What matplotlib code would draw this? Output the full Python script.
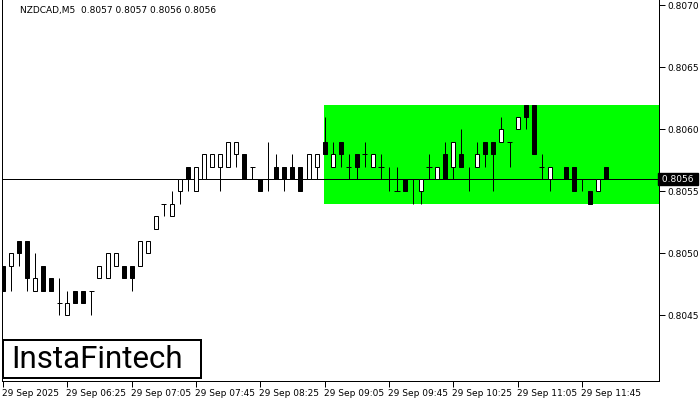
import matplotlib
matplotlib.use("Agg")
import matplotlib.pyplot as plt
from matplotlib.patches import Rectangle
import matplotlib.transforms as mtransforms

# ---- data ----
opens = [0.8049, 0.8049, 0.8051, 0.8051, 0.8047, 0.8049, 0.8048, 0.8046, 0.8045, 0.8047,
         0.8047, 0.8047, 0.8048, 0.8048, 0.8049, 0.8049, 0.8049, 0.8049, 0.8050, 0.8052,
         0.8054, 0.8053, 0.8055, 0.8057, 0.8055, 0.8056, 0.8057, 0.8057, 0.8057, 0.8058,
         0.8058, 0.8057, 0.8056, 0.8056, 0.8057, 0.8057, 0.8057, 0.8057, 0.8056, 0.8057,
         0.8059, 0.8057, 0.8059, 0.8057, 0.8058, 0.8058, 0.8057, 0.8057, 0.8056, 0.8055,
         0.8056, 0.8056, 0.8055, 0.8057, 0.8056, 0.8058, 0.8057, 0.8058, 0.8056, 0.8057,
         0.8059, 0.8059, 0.8059, 0.8059, 0.8060, 0.8062, 0.8062, 0.8057, 0.8056, 0.8056,
         0.8057, 0.8057, 0.8056, 0.8055, 0.8055, 0.8057]
highs = [0.8049, 0.8050, 0.8051, 0.8051, 0.8050, 0.8049, 0.8048, 0.8048, 0.8047, 0.8047,
         0.8047, 0.8047, 0.8049, 0.8050, 0.8050, 0.8049, 0.8049, 0.8051, 0.8051, 0.8053,
         0.8054, 0.8055, 0.8056, 0.8057, 0.8057, 0.8058, 0.8058, 0.8058, 0.8059, 0.8059,
         0.8058, 0.8057, 0.8056, 0.8059, 0.8058, 0.8057, 0.8058, 0.8057, 0.8058, 0.8058,
         0.8061, 0.8059, 0.8059, 0.8058, 0.8058, 0.8059, 0.8058, 0.8058, 0.8057, 0.8057,
         0.8056, 0.8056, 0.8056, 0.8058, 0.8057, 0.8059, 0.8059, 0.8060, 0.8057, 0.8059,
         0.8059, 0.8059, 0.8061, 0.8059, 0.8061, 0.8062, 0.8062, 0.8058, 0.8057, 0.8056,
         0.8057, 0.8057, 0.8056, 0.8055, 0.8056, 0.8057]
lows = [0.8047, 0.8047, 0.8049, 0.8047, 0.8047, 0.8047, 0.8047, 0.8045, 0.8045, 0.8046,
        0.8046, 0.8045, 0.8048, 0.8048, 0.8049, 0.8048, 0.8047, 0.8049, 0.8050, 0.8052,
        0.8053, 0.8053, 0.8054, 0.8055, 0.8055, 0.8056, 0.8057, 0.8055, 0.8057, 0.8057,
        0.8056, 0.8056, 0.8055, 0.8055, 0.8056, 0.8055, 0.8056, 0.8055, 0.8056, 0.8056,
        0.8058, 0.8057, 0.8057, 0.8056, 0.8056, 0.8057, 0.8057, 0.8056, 0.8055, 0.8055,
        0.8055, 0.8054, 0.8054, 0.8056, 0.8056, 0.8056, 0.8056, 0.8057, 0.8055, 0.8057,
        0.8057, 0.8055, 0.8059, 0.8057, 0.8060, 0.8060, 0.8058, 0.8056, 0.8055, 0.8056,
        0.8056, 0.8055, 0.8055, 0.8054, 0.8055, 0.8056]
closes = [0.8047, 0.8050, 0.8050, 0.8048, 0.8048, 0.8047, 0.8047, 0.8046, 0.8046, 0.8046,
          0.8046, 0.8047, 0.8049, 0.8050, 0.8050, 0.8048, 0.8048, 0.8051, 0.8051, 0.8053,
          0.8054, 0.8054, 0.8056, 0.8056, 0.8057, 0.8058, 0.8058, 0.8058, 0.8059, 0.8059,
          0.8056, 0.8057, 0.8055, 0.8056, 0.8056, 0.8056, 0.8056, 0.8055, 0.8058, 0.8058,
          0.8058, 0.8058, 0.8058, 0.8057, 0.8057, 0.8058, 0.8058, 0.8057, 0.8056, 0.8055,
          0.8055, 0.8056, 0.8056, 0.8057, 0.8057, 0.8056, 0.8059, 0.8057, 0.8056, 0.8058,
          0.8058, 0.8058, 0.8060, 0.8059, 0.8061, 0.8061, 0.8058, 0.8057, 0.8057, 0.8056,
          0.8056, 0.8055, 0.8056, 0.8054, 0.8056, 0.8056]

current_price = 0.8056
rect_start_bar = 40
rect_low = 0.8054
rect_high = 0.8062

x_tick_bars = [0, 8, 16, 24, 32, 40, 48, 56, 64, 72]
x_tick_labels = ["29 Sep 2025", "29 Sep 06:25", "29 Sep 07:05", "29 Sep 07:45",
                 "29 Sep 08:25", "29 Sep 09:05", "29 Sep 09:45", "29 Sep 10:25",
                 "29 Sep 11:05", "29 Sep 11:45"]
y_ticks = [0.8045, 0.8050, 0.8055, 0.8060, 0.8065, 0.8070]
y_tick_labels = ["0.8045", "0.8050", "0.8055", "0.8060", "0.8065", "0.8070"]
title_text = "NZDCAD,M5  0.8057 0.8057 0.8056 0.8056"
logo_text = "InstaFintech"

# ---- figure ----
W, H = 700, 400
fig = plt.figure(figsize=(7, 4), dpi=100)
PX = 0.72  # points per pixel

ax_left_px, ax_right_px, ax_top_px, ax_bottom_px = 2, 659, 0, 381
ax = fig.add_axes([ax_left_px / W, (H - ax_bottom_px) / H,
                   (ax_right_px - ax_left_px) / W, (ax_bottom_px - ax_top_px) / H])

bar_px = 8.04
bar0_px = 3.0
ax.set_xlim((ax_left_px - bar0_px) / bar_px, (ax_right_px - bar0_px) / bar_px)
px_per_price = 124000.0
y_ref_px = 179.0
ax.set_ylim(current_price - (ax_bottom_px - y_ref_px) / px_per_price,
            current_price + (y_ref_px - ax_top_px) / px_per_price)

# green rectangle
xr = ax.get_xlim()[1]
ax.add_patch(Rectangle((rect_start_bar - 0.05, rect_low), xr - rect_start_bar + 1,
                       rect_high - rect_low, facecolor="#00ff00", edgecolor="none", zorder=1))

# current price line
ax.axhline(current_price, color="black", lw=1 * PX, zorder=2)

# candles
body_w = 0.5
for i, (o, h, l, c) in enumerate(zip(opens, highs, lows, closes)):
    ax.vlines(i, l, h, color="black", lw=1 * PX, zorder=3)
    if c > o:
        ax.bar(i, c - o, bottom=o, width=body_w, facecolor="white", edgecolor="black",
               linewidth=1 * PX, zorder=4)
    elif c < o:
        ax.bar(i, o - c, bottom=c, width=body_w, facecolor="black", edgecolor="black",
               linewidth=1 * PX, zorder=4)
    else:
        ax.hlines(o, i - 0.33, i + 0.33, color="black", lw=1 * PX, zorder=4)

# axes styling
ax.spines["top"].set_visible(False)
for s in ["left", "right", "bottom"]:
    ax.spines[s].set_color("black")
    ax.spines[s].set_linewidth(1 * PX)

ax.yaxis.tick_right()
ax.set_yticks(y_ticks)
ax.set_yticklabels(y_tick_labels)
ax.set_xticks(x_tick_bars)
ax.set_xticklabels(x_tick_labels, ha="left")
ax.tick_params(axis="y", direction="out", length=4, width=1 * PX, pad=2, labelsize=6.5,
               labelcolor="black", colors="black")
ax.tick_params(axis="x", direction="out", length=4, width=1 * PX, pad=1.5, labelsize=6.5,
               colors="black")
for lbl in ax.get_xticklabels():
    lbl.set_transform(lbl.get_transform() + mtransforms.ScaledTranslation(-1 / 100, 0, fig.dpi_scale_trans))

# current price label on axis
trans = mtransforms.blended_transform_factory(ax.transAxes, ax.transData)
ax.text(1.0, current_price, " " + "%.4f" % current_price + " ", transform=trans,
        ha="left", va="center", fontsize=6.5, color="white", zorder=10, clip_on=False,
        bbox=dict(boxstyle="square,pad=0.15", facecolor="black", edgecolor="black"))

# title
fig.text(20 / W, 1 - 11 / H, title_text, fontsize=6.5, color="black", ha="left", va="center")

# logo box
logo = Rectangle((3 / W, (H - 378) / H), 198 / W, 38 / H, transform=fig.transFigure,
                 facecolor="white", edgecolor="black", linewidth=2 * PX, zorder=20)
fig.patches.append(logo)
fig.text(97 / W, (H - 359) / H, logo_text, fontsize=22.5, family="Roboto", color="black",
         ha="center", va="center", zorder=21)

fig.savefig("out.png", dpi=100)
